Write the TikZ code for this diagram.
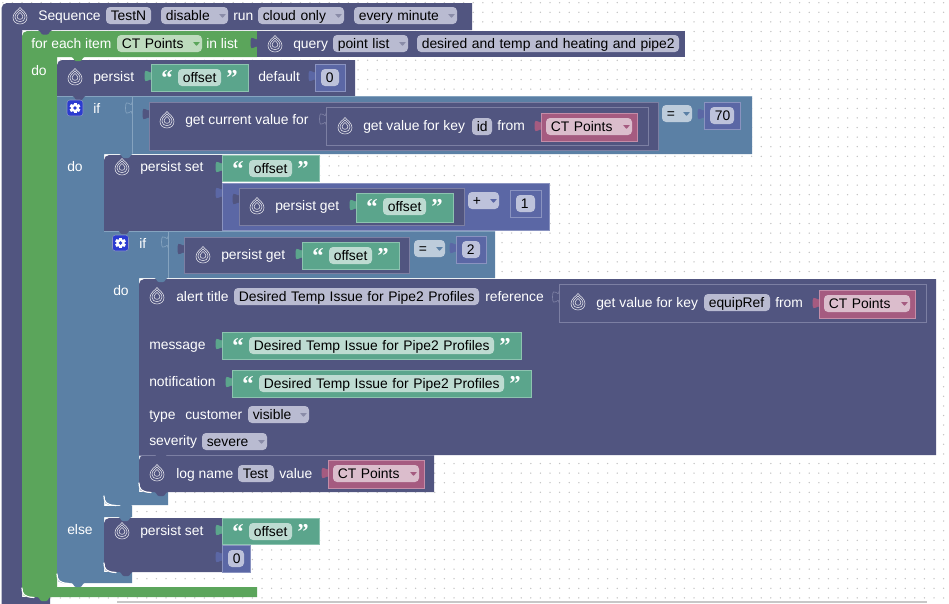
\documentclass[tikz,border=0pt]{standalone}
\usepackage{fontspec}
\setmainfont{Liberation Sans}
\newfontfamily\quotefont{Liberation Serif}
\definecolor{navy}{HTML}{515580}
\definecolor{navyhl}{HTML}{7C7FA3}
\definecolor{navyfld}{HTML}{B9BBD1}
\definecolor{loopc}{HTML}{5BA55B}
\definecolor{loopfld}{HTML}{BDDBBD}
\definecolor{logicc}{HTML}{5B80A5}
\definecolor{logichl}{HTML}{85A3BF}
\definecolor{logicfld}{HTML}{BDCCDB}
\definecolor{mathc}{HTML}{5B67A5}
\definecolor{mathhl}{HTML}{8A93C0}
\definecolor{mathfld}{HTML}{BDC2DB}
\definecolor{textc}{HTML}{5BA58C}
\definecolor{texthl}{HTML}{8DC3B0}
\definecolor{textfld}{HTML}{BDDBD1}
\definecolor{varc}{HTML}{A55B80}
\definecolor{varhl}{HTML}{C48DA8}
\definecolor{varfld}{HTML}{DBBDCC}
\definecolor{ddarrow}{HTML}{8A8CA8}
\definecolor{gearc}{HTML}{2B3BD0}
\tikzset{
  lbl/.style={anchor=west,inner sep=0pt,text=white,font=\fontsize{10.4}{12}\selectfont,text height=9pt,text depth=2.2pt},
  fieldbox/.style={rounded corners=3pt,inner xsep=3.6pt,inner ysep=0pt,text=black,font=\fontsize{10.4}{12}\selectfont,text height=9.6pt,text depth=2.2pt,align=left},
  qt/.style={inner sep=0pt,anchor=base,text=white,font=\quotefont\bfseries\fontsize{17}{17}\selectfont},
  dotmark/.style={fill=black!24},
  corner/.style={white,line width=0.9pt,line cap=round}
}
% label
\newcommand\lbl[4]{\node[lbl] (#1) at (#2,#3) {#4};}
% field: name x1 x2 y1 fill text
\newcommand\fld[6]{\node[fieldbox,fill=#5,text width={((#3)-(#2)-9.6)*0.75pt},minimum height=12.75pt] (#1) at ({((#2)+(#3))/2},{(#4)+8.5}) {\mbox{#6}};}
% dropdown arrow at right end of a field
\newcommand\arrowd[3]{\fill[#3,rounded corners=0.3pt] (#1-9,#2-2) -- (#1-2,#2-2) -- (#1-5.5,#2+2) -- cycle;}
\newcommand\dfld[7]{\fld{#1}{#2}{#3}{#4}{#5}{#6}\arrowd{#3}{#4+9}{#7}}
% left puzzle tab: x y colour
\newcommand\ptab[3]{\fill[#3] (#1+0.5,#2) .. controls (#1,#2+8) and (#1-6.5,#2-6.5) .. (#1-6.5,#2+6) .. controls (#1-6.5,#2+18.5) and (#1,#2+4) .. (#1+0.5,#2+12) -- cycle;}
% hollow socket
\newcommand\socket[3]{\draw[#3,line width=0.5pt] (#1,#2) .. controls (#1,#2+8) and (#1-6.5,#2-6.5) .. (#1-6.5,#2+6) .. controls (#1-6.5,#2+18.5) and (#1,#2+4) .. (#1,#2+12);}
% downward notch
\newcommand\notch[3]{\fill[#3] (#1,#2-0.5) -- (#1+2,#2+1) .. controls (#1+3,#2+3) and (#1+4,#2+4) .. (#1+5,#2+4) -- (#1+9,#2+4) .. controls (#1+10,#2+4) and (#1+11,#2+3) .. (#1+12,#2+1) -- (#1+14,#2-0.5) -- cycle;}
% plain block
\newcommand\blk[6]{\fill[#5] (#1,#2) rectangle (#3,#4); \draw[#6,line width=0.45pt] (#1,#4) -- (#1,#2) -- (#3,#2) -- (#3,#4) -- cycle;}
% drop icon
\newcommand\dropicon[2]{\begin{scope}[shift={(#1,#2)}]
 \foreach \s in {1,0.72,0.42}{
  \draw[white!85!navy,line width=0.42pt,scale=\s] (0,-8.5) .. controls (1.5,-6) and (7,-3.5) .. (7,1.5) .. controls (7,5.5) and (3.8,8) .. (0,8) .. controls (-3.8,8) and (-7,5.5) .. (-7,1.5) .. controls (-7,-3.5) and (-1.5,-6) .. (0,-8.5) -- cycle;}
 \end{scope}}
% gear button
\newcommand\gearbtn[2]{\begin{scope}[shift={(#1,#2)}]
 \fill[gearc,draw=mathhl,line width=0.4pt,rounded corners=2.2pt] (-8,-8) rectangle (8,8);
 \foreach \a in {0,60,120,180,240,300}{\fill[white,rotate=\a] (-1.5,-5.4) rectangle (1.5,-2.5);}
 \fill[white] (0,0) circle (4.2);
 \fill[gearc] (0,0) circle (1.9);
 \end{scope}}
% text block
\newcommand\strblk[6]{\ptab{#2}{#4+6}{textc}\blk{#2}{#4}{#3}{#5}{textc}{texthl}
 \fld{#1}{#2+27}{#3-27}{#4+5}{textfld}{#6}
 \node[qt] (#1ql) at (#2+16,#4+21) {“};
 \node[qt] (#1qr) at (#3-16,#4+21) {”};}
% variable block
\newcommand\varblk[3]{\ptab{#2}{#3+7}{varc}\blk{#2}{#3}{#2+96}{#3+28}{varc}{varhl}
 \dfld{#1}{#2+5}{#2+91}{#3+5}{varfld}{CT Points}{varc}}
% number block
\newcommand\numblk[5]{\ptab{#2}{#4+6}{mathc}\blk{#2}{#4}{#3}{#4+27}{mathc}{mathhl}
 \fld{#1}{#2+6}{#3-6}{#4+5}{mathfld}{#5}}
% highlight at a concave lower-left corner
\newcommand\cornerhl[2]{\draw[corner] (#1,#2-9) .. controls (#1,#2-3) and (#1+2,#2) .. (#1+12,#2+0.5);}
\begin{document}
\begin{tikzpicture}[x=0.75pt,y=-0.75pt]
\useasboundingbox (0,0) rectangle (949,603);
\fill[white] (0,0) rectangle (949,603);
\foreach \i in {0,...,98}{\foreach \j in {0,...,62}{\fill[dotmark] ({2.8+9.6*\i},{2.7+9.6*\j}) circle (0.75);}}
\fill[black!22] (117,601) rectangle (927,603);

% Sequence block
\fill[navy,rounded corners=4pt] (1.5,610) -- (1.5,3) -- (30,3) [sharp corners] -- (472,3) -- (472,30) -- (22,30) -- (22,597) -- (50,597) -- (50,610) -- cycle;

% for each block
\fill[loopc] (22,300) [rounded corners=4pt] -- (22,31) [sharp corners] -- (60,31) -- (257,31) -- (257,57) -- (57,57) -- (57,587) -- (257,587) -- (257,597) -- (60,597) [rounded corners=4pt] -- (22,597) -- cycle;
\notch{38}{30.5}{navy}
\cornerhl{22}{597}
\notch{37}{597}{loopc}

% query block
\ptab{257}{37}{navy}
\fill[navy] (257,31) rectangle (685,57);

% persist block
\fill[navy,rounded corners=4pt] (57,96) -- (57,60) -- (70,60) [sharp corners] -- (355,60) -- (355,96) -- cycle;
\notch{71}{57}{loopc}

% if block 1
\fill[logicc] (57,300) -- (57,96) -- (752,96) -- (752,154) -- (104,154) -- (104,506) -- (132,506) -- (132,517) -- (104,517) -- (104,572) -- (132,572) -- (132,583) -- (70,583) [rounded corners=4pt] -- (57,583) -- cycle;
\draw[logichl,line width=0.45pt] (57,96.3) -- (752,96.3);
\draw[logichl,line width=0.45pt] (132,96) -- (132,154);
\notch{72}{96}{navy}
\cornerhl{57}{583}
\notch{71}{583}{logicc}

% if 1 contents
\socket{132}{102}{logichl}
\ptab{149}{108}{navy}
\blk{149}{102}{658}{150}{navy}{navyhl}
\socket{326}{113}{navyhl}
\blk{326}{107}{648}{145}{navy}{navyhl}
\numblk{n70}{704}{740}{102}{70}
\dfld{eq1}{662}{692}{105}{logicfld}{=}{logicc}

% persist set 1
\fill[navy,rounded corners=4pt] (104,231) -- (104,155) -- (115,155) [sharp corners] -- (222,155) -- (222,231) -- cycle;
\notch{119}{154}{logicc}

% math block
\ptab{222}{187}{mathc}
\blk{222}{183}{549}{230.5}{mathc}{mathhl}
\ptab{239}{193}{navy}
\blk{239}{188}{464}{225}{navy}{navyhl}
\dfld{plus}{468}{499}{192}{mathfld}{+}{mathc}
\numblk{none}{510}{541}{190}{1}

% inner if
\fill[logicc] (104,300) -- (104,231) -- (495,231) -- (495,278) -- (139,278) -- (139,492) -- (168,492) -- (168,505) -- (115,505) [rounded corners=4pt] -- (104,505) -- cycle;
\draw[logichl,line width=0.45pt] (104,230.8) -- (495,230.8);
\draw[logichl,line width=0.45pt] (168,231) -- (168,278);
\notch{117}{230}{navy}
\cornerhl{104}{505}
\notch{119}{505}{logicc}
\socket{168}{236}{logichl}
\ptab{184}{243}{navy}
\blk{184}{237}{409}{273}{navy}{navyhl}
\dfld{eq2}{414}{445}{240}{logicfld}{=}{logicc}
\numblk{ntwo}{456}{486}{236}{2}

% alert block
\fill[navy,rounded corners=4pt] (139,300) -- (139,279) -- (150,279) [sharp corners] -- (936,279) -- (936,455) -- (139,455) -- cycle;
\notch{154}{278}{logicc}
\socket{559}{291}{navyhl}
\blk{559}{284}{926}{322}{navy}{navyhl}

% log block
\fill[navy] (139,455) -- (434,455) -- (434,492) -- (150,492) [rounded corners=4pt] -- (139,492) -- cycle;
\draw[navyhl,line width=0.45pt] (139,455) -- (434,455);
\notch{154}{454.5}{navy}
\cornerhl{139}{492}
\notch{154}{492}{navy}

% else persist set
\fill[navy,rounded corners=4pt] (104,545) -- (104,518) -- (115,518) [sharp corners] -- (222,518) -- (222,572) -- (115,572) [rounded corners=4pt] -- (104,572) -- cycle;
\notch{118}{517}{logicc}
\cornerhl{104}{572}
\notch{119}{572}{navy}

% icons
\dropicon{20}{16}\dropicon{275}{44}\dropicon{75}{77}\dropicon{167}{120}\dropicon{345}{126}
\dropicon{122}{167}\dropicon{257}{206}\dropicon{203}{255}\dropicon{157}{296}\dropicon{578}{302}
\dropicon{157}{473}\dropicon{122}{531}
\gearbtn{75}{108}\gearbtn{120.5}{243}

% row 1
\lbl{tseq}{38}{16}{Sequence}
\fld{ftest}{106}{151}{7}{navyfld}{TestN}
\dfld{fdis}{161}{228}{7}{navyfld}{disable}{ddarrow}
\lbl{trun}{233}{16}{run}
\dfld{fcloud}{258}{344}{7}{navyfld}{cloud only}{ddarrow}
\dfld{fevery}{354}{457}{7}{navyfld}{every minute}{ddarrow}

% row 2
\lbl{teach}{31}{44}{for each item}
\dfld{fct}{117}{202}{35}{loopfld}{CT Points}{loopc}
\lbl{tinl}{206}{44}{in list}
\lbl{tquery}{293}{44}{query}
\dfld{fpl}{333}{408}{35}{navyfld}{point list}{ddarrow}
\fld{fkw}{417}{679}{35}{navyfld}{desired and temp and heating and pipe2}

\lbl{tdo1}{31}{71}{do}
\lbl{tpers}{93}{77}{persist}
\strblk{sa}{151}{248}{64}{91}{offset}
\lbl{tdef}{258}{77}{default}
\numblk{nz}{315}{345}{64}{0}

% if 1
\lbl{tif1}{93}{109}{if}
\lbl{tcur}{185}{120}{get current value for}
\lbl{tgv1}{363}{126}{get value for key}
\fld{fid}{472}{492}{118}{navyfld}{id}
\lbl{tfr1}{497}{126}{from}
\varblk{va}{541}{113}

\lbl{tdo2}{67}{167}{do}
\lbl{tps1}{140}{167}{persist set}
\strblk{sb}{222}{319}{155}{181}{offset}
\lbl{tpg1}{275}{206}{persist get}
\strblk{sc}{356}{453}{193}{222}{offset}

% inner if text
\lbl{tif2}{139}{244}{if}
\lbl{tpg2}{221}{255}{persist get}
\strblk{sd}{302}{399}{242}{269}{offset}

% alert
\lbl{tdo3}{113}{291}{do}
\lbl{talert}{176}{297}{alert title}
\fld{ftitle}{234}{479}{288}{navyfld}{Desired Temp Issue for Pipe2 Profiles}
\lbl{tref}{485}{297}{reference}
\lbl{tgv2}{596}{303}{get value for key}
\fld{fequip}{704}{770}{294}{navyfld}{equipRef}
\lbl{tfr2}{775}{303}{from}
\varblk{vb}{819}{290}
\lbl{tmsg}{149}{345}{message}
\strblk{se}{222}{521}{332}{359}{Desired Temp Issue for Pipe2 Profiles}
\lbl{tnot}{149}{382}{notification}
\strblk{sf}{232}{531}{370}{397}{Desired Temp Issue for Pipe2 Profiles}
\lbl{ttype}{149}{415}{type}
\lbl{tcust}{185}{415}{customer}
\dfld{fvis}{248}{309}{406}{navyfld}{visible}{ddarrow}
\lbl{tsev}{149}{441}{severity}
\dfld{fsev}{202}{267}{433}{navyfld}{severe}{ddarrow}

% log
\lbl{tlog}{176}{474}{log name}
\fld{ftst}{238}{274}{465}{navyfld}{Test}
\lbl{tval}{279}{474}{value}
\varblk{vc}{328}{460}

% else
\lbl{telse}{67}{530}{else}
\lbl{tps2}{140}{531}{persist set}
\strblk{sg}{222}{319}{518}{544}{offset}
\numblk{nfin}{222}{250}{545}{0}
\end{tikzpicture}
\end{document}
